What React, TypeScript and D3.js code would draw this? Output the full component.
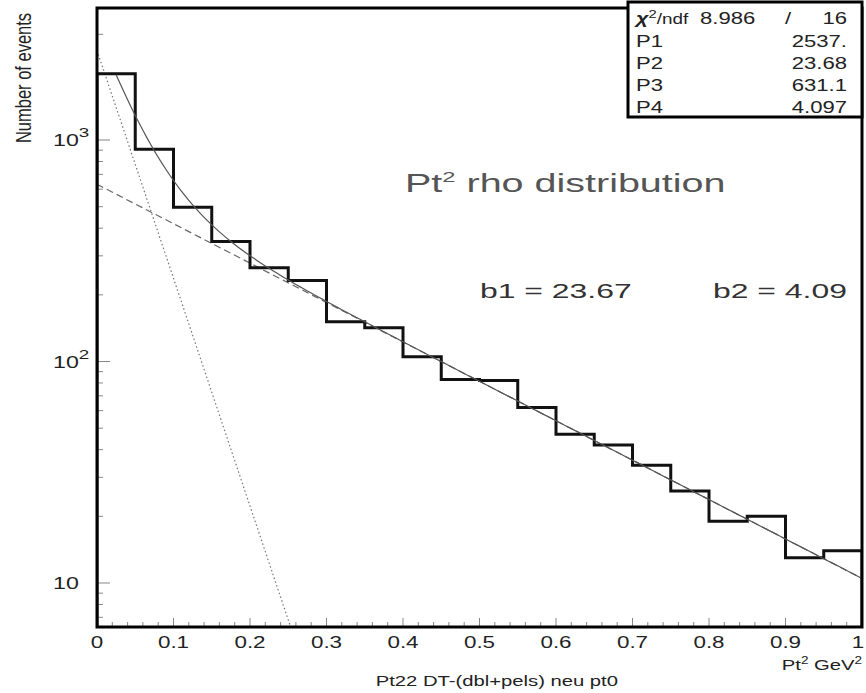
import { useEffect, useRef } from "react";
import * as d3 from "d3";

// histogram contents, 20 bins of width 0.05 in Pt^2
const binWidth = 0.05;
const counts = [1990, 908, 497, 348, 265, 232, 151, 142, 105, 83, 82, 62, 47, 42, 34, 26, 19, 20, 13, 14];

// fit parameters P1..P4 (two exponentials)
const statLabels = ["P1", "P2", "P3", "P4"];
const statValues = ["2537.", "23.68", "631.1", "4.097"];
const fitParams = [2537, 23.68, 631.1, 4.097];
const chi2 = "8.986";
const ndf = "16";
const slopeLabels = ["b1 = 23.67", "b2 = 4.09"];

const xTicks = [0, 0.1, 0.2, 0.3, 0.4, 0.5, 0.6, 0.7, 0.8, 0.9, 1];
const xTickLabels = ["0", "0.1", "0.2", "0.3", "0.4", "0.5", "0.6", "0.7", "0.8", "0.9", "1"];
const yDecades = [10, 100, 1000];
const yDecadeExp = ["", "2", "3"];

const W = 866;
const H = 693;
const FONT = "'Liberation Sans', Arial, sans-serif";

const App = () => {
  const svgRef = useRef<SVGSVGElement>(null);

  useEffect(() => {
    const svg = d3.select(svgRef.current);
    svg.selectAll("*").remove();

    const left = 97, right = 862, top = 8, bottom = 627;
    const x = d3.scaleLinear().domain([0, 1]).range([left, right]);
    const y = d3.scaleLog().domain([6.33, 3945]).range([bottom, top]);
    const [ymin] = y.domain();

    svg.append("rect").attr("width", W).attr("height", H).attr("fill", "#fff");

    svg.append("defs").append("clipPath").attr("id", "plotclip")
      .append("rect")
      .attr("x", left).attr("y", top)
      .attr("width", right - left).attr("height", bottom - top);

    const stretched = (sx: number, px: number, py: number) =>
      `translate(${px},${py}) scale(${sx},1)`;

    // y ticks (inside, from the left axis)
    const yt = svg.append("g").attr("stroke", "#888").attr("stroke-width", 1);
    [1, 10, 100, 1000].forEach((dec) => {
      d3.range(1, 10).forEach((m) => {
        const v = dec * m;
        if (v < y.domain()[0] || v > y.domain()[1]) return;
        const len = m === 1 ? 13 : 6;
        yt.append("line")
          .attr("x1", left).attr("x2", left + len)
          .attr("y1", y(v)).attr("y2", y(v));
      });
    });

    // x ticks (inside, from the bottom axis)
    const xt = svg.append("g").attr("stroke", "#888").attr("stroke-width", 1);
    d3.range(0, 51).forEach((i) => {
      const len = i % 5 === 0 ? 9 : 5;
      xt.append("line")
        .attr("x1", x(i * 0.02)).attr("x2", x(i * 0.02))
        .attr("y1", bottom).attr("y2", bottom - len);
    });

    const plot = svg.append("g").attr("clip-path", "url(#plotclip)");
    const line = d3.line<[number, number]>().x((d) => x(d[0])).y((d) => y(d[1]));

    // fit components
    const [p1, p2, p3, p4] = fitParams;
    const dotted: [number, number][] = [0, 0.3].map((t) => [t, p1 * Math.exp(-p2 * t)]);
    const dashed: [number, number][] = [0, 1].map((t) => [t, p3 * Math.exp(-p4 * t)]);
    const total: [number, number][] = d3.range(0.025, 1.0001, 0.005)
      .map((t) => [t, p1 * Math.exp(-p2 * t) + p3 * Math.exp(-p4 * t)]);

    plot.append("path").attr("d", line(dotted)).attr("fill", "none")
      .attr("stroke", "#777").attr("stroke-width", 1.2).attr("stroke-dasharray", "1.5,2.5");
    plot.append("path").attr("d", line(dashed)).attr("fill", "none")
      .attr("stroke", "#666").attr("stroke-width", 1.2).attr("stroke-dasharray", "7,4");

    // histogram outline
    const steps: [number, number][] = [[0, ymin]];
    counts.forEach((c, i) => {
      steps.push([i * binWidth, c]);
      steps.push([(i + 1) * binWidth, c]);
    });
    steps.push([counts.length * binWidth, ymin]);
    plot.append("path").attr("d", line(steps)).attr("fill", "none")
      .attr("stroke", "#111").attr("stroke-width", 3).attr("stroke-linejoin", "miter");

    plot.append("path").attr("d", line(total)).attr("fill", "none")
      .attr("stroke", "#555").attr("stroke-width", 1.2);

    // frame
    svg.append("rect")
      .attr("x", left).attr("y", top)
      .attr("width", right - left).attr("height", bottom - top)
      .attr("fill", "none").attr("stroke", "#000").attr("stroke-width", 3);

    const txt = svg.append("g").attr("font-family", FONT).attr("fill", "#222");

    // x tick labels
    xTicks.forEach((t, i) => {
      const px = i === xTicks.length - 1 ? x(t) - 4 : x(t);
      txt.append("text")
        .attr("transform", stretched(1.4, px, 648))
        .attr("text-anchor", "middle").attr("font-size", 16)
        .text(xTickLabels[i]);
    });

    // y tick labels
    yDecades.forEach((v, i) => {
      const el = txt.append("text")
        .attr("transform", stretched(1.45, 53, y(v) + 6))
        .attr("font-size", 16)
        .text("10");
      if (yDecadeExp[i]) {
        el.append("tspan").attr("dy", -9).attr("font-size", 13).text(yDecadeExp[i]);
      }
    });

    // axis titles
    txt.append("text")
      .attr("transform", `translate(31,78) scale(1.3,1) rotate(-90)`)
      .attr("text-anchor", "middle").attr("font-size", 16.5)
      .text("Number of events");

    const xt2 = txt.append("text")
      .attr("transform", stretched(1.35, 862, 670))
      .attr("text-anchor", "end").attr("font-size", 15)
      .text("Pt");
    xt2.append("tspan").attr("dy", -6).attr("font-size", 10).text("2");
    xt2.append("tspan").attr("dy", 6).text(" GeV");
    xt2.append("tspan").attr("dy", -6).attr("font-size", 10).text("2");

    txt.append("text")
      .attr("transform", stretched(1.35, 618, 686))
      .attr("text-anchor", "end").attr("font-size", 15)
      .text("Pt22 DT-(dbl+pels) neu pt0");

    // title and slopes
    const title = txt.append("text")
      .attr("transform", stretched(1.58, 405, 192))
      .attr("font-size", 25).attr("fill", "#555")
      .text("Pt");
    title.append("tspan").attr("dy", -10).attr("font-size", 15).text("2");
    title.append("tspan").attr("dy", 10).text(" rho distribution");

    [480, 713].forEach((px, i) => {
      txt.append("text")
        .attr("transform", stretched(1.52, px, 298))
        .attr("font-size", 21).attr("fill", "#333")
        .text(slopeLabels[i]);
    });

    // stats box
    const bx = 628, by = 2, bw = 234, bh = 115;
    svg.append("rect")
      .attr("x", bx).attr("y", by).attr("width", bw).attr("height", bh)
      .attr("fill", "#fff").attr("stroke", "#000").attr("stroke-width", 3);

    const st = svg.append("g").attr("font-family", FONT).attr("fill", "#222").attr("font-size", 16);
    const head = st.append("text").attr("transform", stretched(1.35, 636, 24));
    head.append("tspan").attr("font-style", "italic").attr("font-weight", "bold").text("χ");
    head.append("tspan").attr("dy", -6).attr("font-size", 11).text("2");
    head.append("tspan").attr("dy", 6).attr("font-size", 14).text("/ndf");
    st.append("text").attr("transform", stretched(1.38, 700, 24)).text(chi2);
    st.append("text").attr("transform", stretched(1.38, 788, 24)).attr("text-anchor", "middle").text("/");
    st.append("text").attr("transform", stretched(1.38, 847, 24)).attr("text-anchor", "end").text(ndf);

    statLabels.forEach((lab, i) => {
      const yy = 47 + i * 22;
      st.append("text").attr("transform", stretched(1.38, 636, yy)).text(lab);
      st.append("text").attr("transform", stretched(1.38, 847, yy))
        .attr("text-anchor", "end").text(statValues[i]);
    });
  }, []);

  return (
    <svg
      ref={svgRef}
      width={W}
      height={H}
      style={{ position: "absolute", left: 0, top: 0 }}
    />
  );
};

export default App;
